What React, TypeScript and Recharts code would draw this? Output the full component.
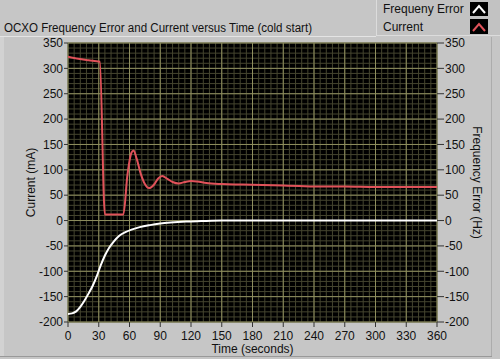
import { LineChart, Line, XAxis, YAxis, CartesianGrid } from "recharts";

// Current (mA), left axis
const currentTime = [0, 10, 20, 31, 36, 54, 58, 62, 64, 67, 71, 75, 79, 84, 88, 92, 97, 102, 108, 114, 120, 126, 135, 150, 170, 190, 210, 226, 240, 270, 300, 330, 360];
const currentValues = [323, 319, 316, 313, 12, 12, 90, 134, 138, 122, 92, 72, 64, 71, 83, 88, 82, 76, 73, 76, 78, 77, 74, 72, 71, 70, 69, 68, 67, 67, 66, 66, 66];

// Frequency error (Hz), right axis
const freqTime = [0, 4, 8, 12, 16, 20, 24, 28, 32, 36, 40, 44, 50, 56, 62, 70, 80, 90, 100, 115, 130, 150, 200, 250, 300, 360];
const freqValues = [-184, -183, -179, -170, -158, -144, -129, -110, -88, -69, -54, -43, -30, -23, -18, -13, -9, -6, -4, -2, -1, 0, 0, 0, 0, 0];

const timeTicks = [0, 30, 60, 90, 120, 150, 180, 210, 240, 270, 300, 330, 360];
const valueTicks = [-200, -150, -100, -50, 0, 50, 100, 150, 200, 250, 300, 350];

const currentData = currentTime.map((t, i) => ({ t, current: currentValues[i] }));
const freqData = freqTime.map((t, i) => ({ t, freq: freqValues[i] }));

// minor grid: 5 divisions per major
const minorX: number[] = [];
for (let v = 0; v <= 360; v += 6) minorX.push(v);
const minorY: number[] = [];
for (let v = -200; v <= 350; v += 10) minorY.push(v);

const FONT = '"Liberation Sans", Arial, sans-serif';
const tickStyle = { fill: "#111", fontSize: 12, fontFamily: FONT };

export default function App() {
  return (
    <div style={{ position: "absolute", left: 0, top: 0, width: 500, height: 359, background: "#c6c6c6", fontFamily: FONT }}>
      <svg width={500} height={359} style={{ position: "absolute", left: 0, top: 0 }}>
        <line x1={0} y1={36.5} x2={376} y2={36.5} stroke="#e4e4e4" />
        <rect x={0} y={37} width={4} height={319} fill="#d2d2d2" />
        <line x1={491.5} y1={37} x2={491.5} y2={356} stroke="#acacac" />
        <line x1={0} y1={356.5} x2={492} y2={356.5} stroke="#999" />
        <text x={4} y={32} fontSize={12} fill="#111" fontFamily={FONT} textLength={308} lengthAdjust="spacingAndGlyphs">
          OCXO Frequency Error and Current versus Time (cold start)
        </text>
        <rect x={376.5} y={-1} width={124} height={36.5} fill="#c2c2c2" stroke="#dcdcdc" />
        <text x={383} y={13} fontSize={12} fill="#111" fontFamily={FONT}>Frequeny Error</text>
        <text x={383} y={30.5} fontSize={12} fill="#111" fontFamily={FONT}>Current</text>
        <rect x={470} y={2} width={18} height={14} fill="#000" />
        <polyline points="473,13 479,6 485,13" fill="none" stroke="#fff" strokeWidth={2} />
        <rect x={470} y={19} width={18} height={15} fill="#000" />
        <polyline points="473,31 479,24 485,31" fill="none" stroke="#e0525a" strokeWidth={2} />
      </svg>
      <div style={{ position: "absolute", left: 0, top: 0 }}>
        <LineChart width={500} height={359} margin={{ top: 43, right: 0, bottom: 0, left: 0 }}>
          <CartesianGrid
            xAxisId="minor"
            yAxisId="minor"
            syncWithTicks
            stroke="#45452f"
            fill="#000"
            fillOpacity={1}
          />
          <CartesianGrid
            xAxisId="main"
            yAxisId="left"
            syncWithTicks
            stroke="#8e8e5e"
          />
          <XAxis xAxisId="minor" dataKey="t" type="number" domain={[0, 360]} ticks={minorX} interval={0} hide allowDataOverflow />
          <YAxis yAxisId="minor" type="number" domain={[-200, 350]} ticks={minorY} interval={0} hide allowDataOverflow />
          <XAxis
            xAxisId="main"
            dataKey="t"
            type="number"
            domain={[0, 360]}
            ticks={timeTicks}
            interval={0}
            height={37}
            tickSize={5}
            tickMargin={4}
            tick={tickStyle}
            tickLine={{ stroke: "#333" }}
            axisLine={false}
            allowDataOverflow
            label={{ value: "Time (seconds)", position: "insideBottom", offset: 6, fill: "#111", fontSize: 12, fontFamily: FONT }}
          />
          <YAxis
            yAxisId="left"
            type="number"
            domain={[-200, 350]}
            ticks={valueTicks}
            interval={0}
            width={68}
            tickSize={4}
            tickMargin={1}
            tick={tickStyle}
            tickLine={{ stroke: "#333" }}
            axisLine={false}
            allowDataOverflow
            label={{ value: "Current (mA)", angle: -90, position: "center", dx: -3, fill: "#111", fontSize: 12, fontFamily: FONT }}
          />
          <YAxis
            yAxisId="right"
            orientation="right"
            type="number"
            domain={[-200, 350]}
            ticks={valueTicks}
            interval={0}
            width={63}
            tickSize={7}
            tickMargin={1}
            tick={tickStyle}
            tickLine={{ stroke: "#333" }}
            axisLine={false}
            allowDataOverflow
            label={{ value: "Frequency Error (Hz)", angle: 90, position: "center", dx: 9, fill: "#111", fontSize: 12, fontFamily: FONT }}
          />
          <Line
            xAxisId="main"
            yAxisId="right"
            data={freqData}
            dataKey="freq"
            type="monotone"
            stroke="#ffffff"
            strokeWidth={2}
            dot={false}
            isAnimationActive={false}
          />
          <Line
            xAxisId="main"
            yAxisId="left"
            data={currentData}
            dataKey="current"
            type="monotone"
            stroke="#e0525a"
            strokeWidth={2}
            dot={false}
            isAnimationActive={false}
          />
        </LineChart>
      </div>
    </div>
  );
}
